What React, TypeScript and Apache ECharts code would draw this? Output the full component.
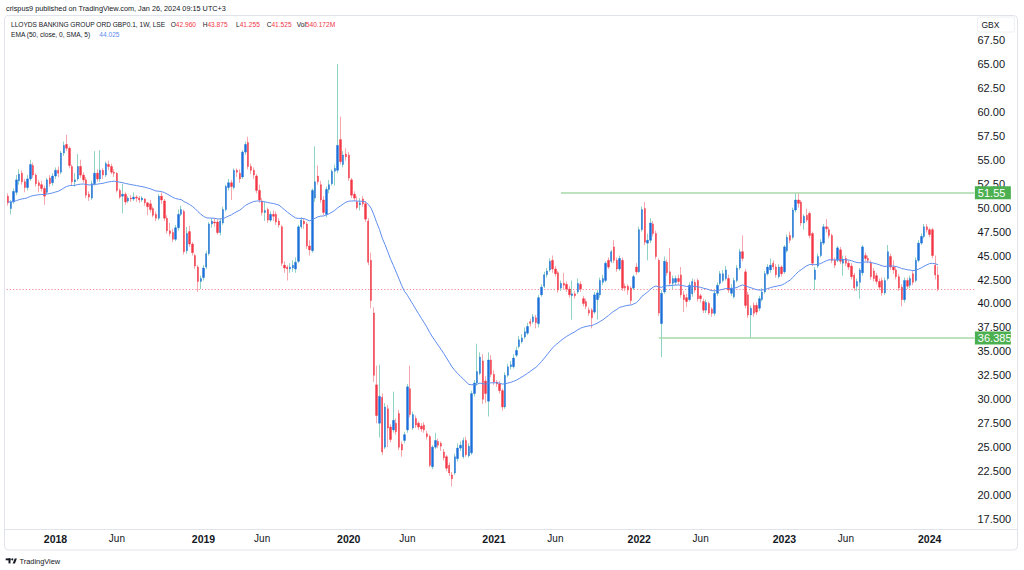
import React, { useEffect, useRef } from "react";
import * as echarts from "echarts";

// ---------------- data ----------------
// first weekly bar (Monday) of the series
const startYear = 2017;
const startMonth = 9; // September
const startDay = 4;
const padSlots = 13; // empty weeks right of the last bar

// weekly candles: [open, close, low, high]
const candles2017 = [
  [51.2, 50.5, 50.2, 51.5], [49.9, 50.6, 49.3, 50.8], [50.6, 51.7, 50.4, 52.0], [51.6, 52.9, 51.3, 53.4],
  [52.8, 53.5, 52.4, 54.0], [53.6, 52.7, 52.4, 53.9], [52.7, 52.1, 51.6, 53.0], [52.1, 53.0, 51.8, 53.4],
  [53.0, 54.5, 52.8, 55.0], [54.4, 53.4, 53.1, 54.7], [53.4, 52.5, 52.2, 53.6], [52.6, 52.3, 51.6, 52.9],
  [52.4, 52.0, 51.7, 52.8], [52.0, 51.2, 50.3, 52.3], [51.6, 52.9, 51.4, 53.1], [53.1, 52.5, 52.2, 53.4],
  [52.6, 53.3, 52.3, 53.6],
];
const candles2018 = [
  [53.3, 53.9, 53.0, 54.2], [53.9, 53.6, 53.2, 54.3], [53.7, 55.7, 53.5, 55.9], [55.7, 56.5, 55.4, 56.9],
  [56.6, 56.2, 55.9, 57.6], [56.2, 54.4, 54.1, 56.4], [54.3, 52.7, 52.3, 54.5], [52.7, 52.9, 52.2, 53.6],
  [53.0, 54.3, 52.8, 55.6], [54.3, 53.4, 53.1, 55.0], [53.4, 52.9, 52.6, 53.7], [52.9, 51.3, 51.0, 53.2],
  [51.4, 51.1, 50.7, 51.7], [51.0, 52.5, 50.8, 52.8], [52.5, 53.6, 52.3, 55.9], [53.6, 53.0, 52.7, 54.0],
  [53.0, 53.9, 52.7, 56.0], [53.9, 53.4, 53.0, 54.1], [53.4, 54.6, 53.2, 54.8], [54.5, 54.3, 53.9, 54.9],
  [54.3, 53.7, 53.5, 54.6], [53.7, 53.6, 53.2, 54.0], [53.6, 51.8, 51.6, 53.7], [51.8, 51.1, 50.9, 52.0],
  [51.2, 51.4, 49.4, 52.5], [51.4, 50.6, 50.3, 51.6], [50.7, 51.0, 50.5, 51.2], [51.0, 50.9, 50.6, 51.3],
  [50.9, 51.1, 50.7, 51.6], [51.1, 51.0, 50.6, 51.3], [51.0, 50.8, 50.5, 51.2], [50.8, 51.0, 50.6, 51.2],
  [50.9, 50.5, 50.2, 51.0], [50.5, 50.1, 49.2, 50.6], [50.4, 49.8, 49.5, 50.8], [49.9, 49.2, 49.0, 50.1],
  [49.3, 48.9, 48.6, 49.6], [48.9, 51.2, 48.7, 51.4], [51.2, 50.8, 50.4, 51.6], [50.7, 48.9, 48.6, 50.9],
  [48.9, 47.6, 47.3, 49.2], [47.6, 47.3, 47.0, 48.4], [47.4, 46.7, 46.4, 47.8], [46.7, 47.9, 46.5, 48.2],
  [47.9, 49.3, 47.6, 49.8], [49.3, 49.8, 49.1, 50.2], [49.6, 45.4, 45.1, 49.8], [45.5, 47.3, 45.2, 48.0],
  [47.5, 46.2, 45.9, 48.1], [46.2, 45.3, 45.0, 46.4], [45.0, 43.9, 43.6, 45.2], [43.8, 42.3, 41.2, 44.0],
  [42.3, 42.6, 41.5, 42.9],
];
const candles2019 = [
  [42.7, 43.7, 42.4, 44.0], [43.8, 45.2, 43.6, 45.5], [45.2, 48.3, 45.0, 48.5], [48.3, 48.6, 47.9, 48.9],
  [48.5, 48.4, 48.0, 48.9], [48.5, 47.4, 47.2, 48.8], [47.4, 48.6, 47.1, 48.9], [48.4, 49.8, 48.2, 50.1],
  [49.8, 52.2, 49.6, 52.4], [52.1, 52.6, 51.8, 53.0], [52.6, 52.2, 50.8, 52.9], [52.1, 53.9, 51.9, 54.1],
  [53.9, 53.7, 53.2, 54.1], [53.6, 53.0, 52.6, 54.0], [53.2, 55.8, 53.0, 56.0], [55.8, 56.6, 55.5, 56.9],
  [56.8, 54.3, 54.0, 57.4], [54.3, 53.9, 53.5, 54.6], [53.9, 53.4, 53.0, 54.2], [53.3, 51.8, 51.5, 53.5],
  [51.8, 50.8, 50.5, 52.4], [50.7, 49.5, 49.2, 51.0], [49.5, 49.7, 48.6, 50.6], [49.8, 48.7, 48.4, 50.0],
  [48.7, 49.3, 48.5, 49.6], [49.3, 49.1, 48.6, 49.7], [49.3, 48.5, 48.2, 49.6], [48.6, 48.2, 47.9, 48.9],
  [48.0, 44.2, 43.9, 48.2], [44.0, 43.7, 43.2, 44.4], [43.8, 43.6, 42.4, 44.0], [43.6, 43.8, 43.2, 44.2],
  [43.7, 44.0, 43.3, 44.5], [43.6, 44.3, 43.2, 44.8], [44.4, 48.0, 44.2, 48.2], [48.0, 48.7, 47.8, 49.0],
  [48.6, 48.3, 47.8, 48.9], [48.3, 46.0, 45.7, 48.5], [46.0, 45.6, 45.0, 46.6], [45.5, 51.8, 45.3, 52.0],
  [51.0, 52.7, 50.6, 56.4], [53.3, 52.7, 52.4, 54.4], [52.4, 50.8, 50.5, 52.8], [50.8, 49.5, 49.2, 51.2],
  [49.3, 51.9, 49.0, 52.2], [51.9, 52.4, 51.5, 52.9], [52.5, 53.8, 52.3, 54.0], [53.8, 54.1, 52.3, 54.5],
  [53.9, 56.5, 53.6, 65.0], [57.1, 54.8, 54.5, 59.5], [54.5, 55.5, 54.2, 55.9], [55.6, 55.3, 54.9, 56.2],
];
const candles2020 = [
  [55.5, 53.1, 52.8, 55.8], [52.9, 51.3, 51.0, 53.1], [51.4, 51.0, 50.7, 51.7], [50.6, 50.0, 49.8, 51.2],
  [50.3, 50.5, 49.7, 51.0], [50.9, 50.4, 50.1, 51.2], [50.4, 48.8, 48.5, 50.7], [48.6, 44.3, 44.0, 48.9],
  [44.5, 40.3, 39.5, 45.3], [39.0, 32.5, 31.8, 39.6], [31.5, 28.3, 27.5, 33.5], [27.5, 30.3, 26.0, 33.6],
  [30.2, 24.5, 24.2, 30.6], [25.0, 29.2, 24.8, 29.6], [29.0, 27.0, 25.0, 29.4], [27.1, 25.8, 25.5, 27.4],
  [26.8, 27.8, 26.5, 30.8], [27.5, 26.6, 26.3, 28.0], [28.5, 25.0, 24.7, 28.9], [25.3, 24.7, 24.0, 25.6],
  [25.7, 26.3, 25.4, 26.6], [26.8, 31.3, 26.5, 31.6], [31.1, 28.4, 28.1, 33.5], [27.0, 28.4, 26.8, 28.7],
  [28.0, 27.3, 27.0, 28.3], [27.5, 27.1, 26.8, 27.7], [27.2, 26.9, 26.6, 27.5], [27.3, 26.8, 26.5, 27.6],
  [26.4, 26.1, 25.8, 26.7], [26.1, 23.1, 22.9, 26.3], [22.96, 25.0, 22.7, 25.2], [25.0, 25.7, 24.8, 26.5],
  [25.6, 25.2, 24.9, 25.9], [25.4, 25.1, 24.6, 25.6], [24.5, 23.9, 23.6, 24.8], [24.0, 22.8, 22.5, 24.2],
  [23.1, 22.3, 22.0, 23.4], [22.1, 21.7, 20.9, 22.4], [22.3, 24.0, 22.1, 24.3], [23.8, 24.9, 23.5, 25.4],
  [24.9, 25.2, 24.6, 25.6], [24.0, 25.7, 23.8, 26.0], [25.7, 24.2, 24.0, 26.1], [24.1, 25.1, 23.9, 25.4],
  [24.4, 30.6, 24.2, 30.9], [30.6, 31.7, 30.3, 32.0], [31.7, 32.9, 31.4, 35.8], [32.7, 34.4, 32.5, 34.9],
  [34.0, 30.0, 29.5, 34.7], [31.9, 30.6, 29.6, 32.4], [29.8, 34.1, 28.2, 34.9],
];
const candles2021 = [
  [34.1, 32.6, 32.3, 34.6], [32.6, 31.8, 31.5, 33.0], [31.8, 31.6, 31.3, 32.0], [31.6, 30.9, 30.6, 31.9],
  [30.9, 29.2, 28.8, 31.1], [29.2, 32.5, 29.0, 32.8], [32.5, 33.4, 32.3, 33.7], [33.4, 33.6, 33.1, 34.0],
  [33.4, 34.3, 33.2, 34.7], [34.6, 35.1, 34.4, 35.5], [35.5, 36.2, 35.3, 36.6], [36.0, 36.4, 35.8, 36.8],
  [36.5, 37.05, 36.3, 37.5], [36.9, 37.6, 36.7, 38.0], [38.1, 37.9, 37.6, 38.4], [38.1, 38.6, 37.9, 38.9],
  [38.5, 38.0, 37.4, 38.8], [37.9, 40.6, 37.5, 40.9], [40.9, 41.7, 40.7, 42.0], [41.8, 43.0, 41.6, 43.3],
  [43.0, 43.4, 42.7, 43.7], [43.5, 44.4, 43.3, 44.7], [44.5, 43.6, 43.2, 45.0], [43.6, 43.1, 42.8, 43.9],
  [43.2, 41.4, 41.1, 43.4], [41.6, 42.1, 41.3, 42.4], [42.1, 41.9, 41.5, 43.2], [42.0, 41.5, 41.2, 42.3],
  [41.5, 40.9, 40.6, 41.8], [40.8, 41.0, 38.3, 42.4], [41.0, 40.8, 40.5, 41.3], [41.2, 42.1, 41.0, 42.6],
  [42.0, 41.5, 41.2, 42.3], [40.5, 40.0, 39.7, 40.8], [40.2, 39.7, 39.4, 40.5], [39.3, 39.0, 38.7, 39.6],
  [39.3, 38.5, 37.4, 39.5], [39.1, 40.9, 38.9, 41.2], [40.4, 41.1, 38.3, 41.4], [40.9, 42.4, 40.6, 42.7],
  [42.2, 42.6, 41.9, 43.0], [42.4, 44.2, 42.2, 44.4], [44.5, 43.8, 43.6, 44.8], [44.4, 45.4, 44.2, 45.6],
  [45.9, 44.5, 44.2, 46.6], [44.5, 43.6, 43.3, 44.8], [43.6, 44.7, 43.4, 45.0], [44.5, 41.6, 41.3, 44.8],
  [41.8, 41.6, 41.3, 42.1], [41.8, 41.4, 40.9, 42.0], [41.6, 40.3, 39.9, 41.8], [41.6, 42.8, 41.4, 43.0],
];
const candles2022 = [
  [43.8, 43.3, 43.0, 44.2], [43.3, 47.7, 43.2, 48.0], [47.7, 49.8, 47.5, 50.1], [49.9, 46.4, 46.1, 50.6],
  [46.3, 46.6, 44.5, 47.3], [46.6, 48.4, 46.3, 48.9], [48.3, 47.3, 47.0, 48.6], [47.3, 44.9, 44.6, 47.6],
  [44.5, 39.0, 38.7, 44.7], [37.9, 41.06, 34.4, 41.4], [41.2, 44.4, 41.0, 44.9], [44.3, 43.2, 42.9, 44.6],
  [43.3, 42.1, 41.8, 45.8], [42.1, 42.6, 41.5, 42.9], [42.2, 42.6, 41.9, 42.9], [42.6, 42.3, 42.0, 43.0],
  [42.97, 40.9, 40.6, 43.8], [40.9, 40.4, 39.1, 41.3], [40.6, 40.2, 39.6, 41.0], [40.4, 41.9, 40.2, 42.2],
  [41.0, 42.3, 40.7, 42.6], [42.2, 41.4, 41.1, 42.5], [42.4, 40.5, 40.2, 42.6], [40.8, 40.5, 40.1, 41.0],
  [40.2, 39.3, 39.0, 40.5], [39.3, 40.1, 39.0, 40.4], [40.0, 39.0, 38.8, 40.2], [39.4, 38.97, 38.6, 39.6],
  [38.97, 41.06, 38.7, 41.3], [41.06, 41.9, 40.8, 42.2], [42.1, 43.1, 41.9, 43.4], [42.4, 43.1, 42.2, 43.5],
  [42.6, 43.5, 42.4, 43.9], [42.6, 41.4, 41.1, 43.0], [41.06, 41.6, 40.8, 42.0], [40.7, 42.4, 40.5, 42.7],
  [42.4, 43.7, 42.2, 44.0], [43.7, 45.4, 43.5, 45.7], [45.4, 44.7, 44.4, 47.1], [43.3, 39.8, 39.5, 43.6],
  [40.9, 38.8, 38.5, 41.2], [38.8, 39.5, 36.385, 39.8], [39.8, 38.97, 38.6, 40.1], [39.8, 39.1, 38.8, 40.1],
  [39.5, 40.5, 39.2, 40.8], [40.4, 41.2, 40.2, 41.6], [41.2, 43.1, 41.0, 43.4], [43.1, 43.8, 42.9, 44.1],
  [43.5, 44.0, 43.2, 44.7], [44.2, 43.8, 43.5, 44.5], [43.8, 43.0, 42.7, 44.1], [42.8, 43.8, 42.6, 44.1],
];
const candles2023 = [
  [43.8, 43.1, 42.8, 44.0], [43.3, 45.9, 43.1, 46.1], [45.5, 46.9, 45.3, 47.2], [47.1, 46.6, 46.3, 47.5],
  [46.9, 49.75, 46.7, 50.0], [49.75, 50.8, 49.5, 51.5], [50.8, 50.45, 50.0, 51.55], [50.6, 48.4, 48.1, 50.8],
  [48.4, 49.1, 47.7, 49.3], [49.2, 48.7, 48.5, 49.9], [49.4, 47.1, 46.8, 49.6], [47.3, 44.2, 43.9, 47.5],
  [42.5, 43.5, 41.4, 43.8], [43.9, 44.9, 43.7, 45.2], [45.0, 46.4, 44.8, 46.7], [46.3, 48.0, 46.1, 48.3],
  [48.0, 47.8, 47.4, 48.8], [47.7, 47.1, 46.8, 48.0], [47.1, 44.5, 44.2, 47.3], [44.5, 44.0, 43.7, 44.8],
  [44.5, 45.8, 44.3, 46.0], [45.6, 44.4, 44.1, 45.9], [44.2, 44.6, 42.9, 45.0], [44.7, 44.2, 43.9, 45.0],
  [44.2, 43.8, 43.5, 44.5], [43.9, 42.8, 42.5, 44.2], [42.96, 41.6, 41.3, 43.2], [41.8, 42.3, 41.3, 42.6],
  [42.2, 43.5, 40.5, 43.7], [43.2, 45.9, 42.9, 46.1], [45.0, 44.7, 44.4, 45.3], [44.7, 44.5, 44.2, 45.0],
  [44.2, 42.8, 42.5, 44.5], [43.4, 42.6, 42.3, 43.7], [42.9, 42.3, 42.0, 43.2], [42.3, 41.7, 41.4, 42.6],
  [42.4, 41.1, 40.8, 42.7], [41.1, 42.4, 40.9, 42.7], [42.6, 45.4, 42.4, 46.1], [44.9, 43.8, 43.5, 45.2],
  [43.8, 43.5, 43.1, 44.5], [43.5, 42.8, 42.5, 43.8], [42.8, 41.6, 41.3, 43.1], [41.7, 40.4, 39.7, 42.0],
  [40.4, 42.4, 40.1, 42.7], [42.4, 41.8, 41.5, 42.7], [41.9, 42.6, 41.6, 42.9], [43.1, 42.2, 41.9, 43.4],
  [42.4, 44.5, 42.2, 44.8], [44.5, 46.3, 44.3, 46.6], [46.3, 47.0, 46.1, 47.3], [47.0, 48.0, 46.8, 48.3],
  [48.0, 47.7, 47.4, 48.3],
];
const candles2024 = [
  [47.7, 47.2, 46.9, 47.9], [47.7, 45.0, 44.7, 47.9], [44.0, 42.96, 42.5, 45.0], [42.96, 41.525, 41.255, 43.875],
];

// indicator + levels
const emaLength = 50;
const emaSeed = 50.6; // EMA value carried in from before the first visible bar
const resistanceLevel = 51.55;
const supportLevel = 36.385;
const lastClose = 41.525;
const resistanceStartBar = 198;
const supportStartBar = 233;

// price scale ticks
const priceMin = 15;
const priceMax = 70;
const priceStep = 2.5;

// legend texts
const headerText = "crispus9 published on TradingView.com, Jan 26, 2024 09:15 UTC+3";
const symbolText = "LLOYDS BANKING GROUP ORD GBP0.1, 1W, LSE";
const ohlcLabels = ["O", "H", "L", "C", "Vol"];
const ohlcValues = ["42.960", "43.875", "41.255", "41.525", "540.172M"];
const emaLabel = "EMA (50, close, 0, SMA, 5)";
const emaValueText = "44.025";

// ---------------- styles ----------------
const FONT = '"Liberation Sans", Arial, Helvetica, sans-serif';
const TEXT = "#131722";
const UP_BODY = "#1B6FD8";
const DOWN_BODY = "#F23645";
const UP_WICK = "#8FD3C7";
const DOWN_WICK = "#F7A6AE";
const EMA_COLOR = "#5E8DF0";
const LEVEL_LINE = "#A6D8A8";
const BADGE = "#4CAF50";
const BORDER = "#E0E3EB";

const SLOT = 2.793;
const GRID_LEFT = 6.6;
const GRID_TOP = 16.05;
const GRID_HEIGHT = 526.9;
const TIME_AXIS_Y = 529.5;
const LEGEND_FONT = 6.6;

export default function App() {
  const ref = useRef<HTMLDivElement>(null);

  useEffect(() => {
    const el = ref.current;
    if (!el) return;
    const chart = echarts.init(el, null, { renderer: "svg" });

    const all = [
      ...candles2017, ...candles2018, ...candles2019, ...candles2020,
      ...candles2021, ...candles2022, ...candles2023, ...candles2024,
    ];
    const nBars = all.length;
    const nSlots = nBars + padSlots;

    // weekly categories and time-axis labels
    const t0 = Date.UTC(startYear, startMonth - 1, startDay);
    const week = 7 * 86400000;
    const cats: string[] = [];
    const timeLabels: string[] = [];
    for (let k = 0; k < nSlots; k++) {
      const d = new Date(t0 + k * week);
      const p = new Date(t0 + (k - 1) * week);
      cats.push(d.toISOString().slice(0, 10));
      let lab = "";
      if (k > 0 && d.getUTCFullYear() !== p.getUTCFullYear()) lab = "{y|" + d.getUTCFullYear() + "}";
      else if (k > 0 && d.getUTCMonth() === 5 && p.getUTCMonth() !== 5) lab = "Jun";
      timeLabels.push(lab);
    }

    const bodies = all.map(([o, c]) => [o, c, Math.min(o, c), Math.max(o, c)]);

    const alpha = 2 / (emaLength + 1);
    const ema: number[] = [];
    let prev = emaSeed;
    for (const c of all) {
      prev = prev + alpha * (c[1] - prev);
      ema.push(+prev.toFixed(4));
    }

    const gridBottom = GRID_TOP + GRID_HEIGHT;

    const badgeLabel = (txt: string) => ({
      show: true,
      position: "end",
      distance: 0.5,
      formatter: txt,
      color: "#ffffff",
      backgroundColor: BADGE,
      padding: [1, 3, 1, 3],
      width: 30,
      lineHeight: 11,
      fontSize: 11,
      fontFamily: FONT,
    });

    const legendItems: any[] = [];
    const legendX = [170.7, 202.7, 236, 266.7, 296.7];
    ohlcLabels.forEach((l, idx) => {
      legendItems.push({
        type: "text",
        x: legendX[idx],
        y: 24.5,
        silent: true,
        style: {
          text: l + "{r|" + ohlcValues[idx] + "}",
          fill: TEXT,
          fontSize: LEGEND_FONT,
          fontFamily: FONT,
          verticalAlign: "middle",
          rich: { r: { fill: DOWN_BODY, fontSize: LEGEND_FONT, fontFamily: FONT } },
        },
      });
    });

    chart.setOption({
      animation: false,
      backgroundColor: "#ffffff",
      textStyle: { fontFamily: FONT },
      grid: { left: GRID_LEFT, top: GRID_TOP, width: nSlots * SLOT, height: GRID_HEIGHT, containLabel: false },
      xAxis: {
        type: "category",
        data: cats,
        boundaryGap: true,
        offset: TIME_AXIS_Y - gridBottom,
        axisLine: { show: false, onZero: false },
        axisTick: { show: false },
        splitLine: { show: false },
        axisLabel: {
          interval: 0,
          margin: 4,
          color: TEXT,
          fontSize: 10,
          fontFamily: FONT,
          formatter: (_v: string, i: number) => timeLabels[i] || "",
          rich: { y: { fontWeight: "bold", fontSize: 10.5, color: TEXT, fontFamily: FONT } },
        },
      },
      yAxis: {
        type: "value",
        position: "right",
        min: priceMin,
        max: priceMax,
        interval: priceStep,
        axisLine: { show: false },
        axisTick: { show: false },
        splitLine: { show: false },
        axisLabel: {
          margin: 1.7,
          color: TEXT,
          fontSize: 11,
          fontFamily: FONT,
          formatter: (v: number) => {
            if (v < 17.4 || v > 67.6) return "";
            return v >= 52.5 ? v.toFixed(2) : v.toFixed(3);
          },
        },
      },
      series: [
        {
          name: "wicks",
          type: "candlestick",
          data: all,
          barWidth: 0.01,
          silent: true,
          clip: false,
          itemStyle: {
            color: UP_WICK, color0: DOWN_WICK,
            borderColor: UP_WICK, borderColor0: DOWN_WICK, borderWidth: 1,
          },
          markLine: {
            silent: true,
            symbol: ["none", "none"],
            z: 1,
            data: [
              {
                yAxis: lastClose,
                lineStyle: { type: [1.2, 2], color: "#F08A93", width: 1 },
                label: { show: false },
              },
            ],
          },
        },
        {
          name: "bodies",
          type: "candlestick",
          data: bodies,
          barWidth: 1.9,
          silent: true,
          clip: false,
          itemStyle: {
            color: UP_BODY, color0: DOWN_BODY,
            borderColor: UP_BODY, borderColor0: DOWN_BODY, borderWidth: 0.4,
          },
          markLine: {
            silent: true,
            symbol: ["none", "none"],
            data: [
              [
                {
                  coord: [resistanceStartBar, resistanceLevel],
                  lineStyle: { color: LEVEL_LINE, width: 1.6, type: "solid" },
                  label: badgeLabel(resistanceLevel.toFixed(2)),
                },
                { coord: [nSlots - 1, resistanceLevel] },
              ],
              [
                {
                  coord: [supportStartBar, supportLevel],
                  lineStyle: { color: LEVEL_LINE, width: 1.6, type: "solid" },
                  label: badgeLabel(supportLevel.toFixed(3)),
                },
                { coord: [nSlots - 1, supportLevel] },
              ],
            ],
          },
        },
        {
          name: "EMA",
          type: "line",
          data: ema,
          symbol: "none",
          showSymbol: false,
          silent: true,
          z: 4,
          lineStyle: { color: EMA_COLOR, width: 1 },
        },
      ],
      graphic: [
        {
          type: "rect", silent: true, z: -1,
          shape: { x: 4.5, y: 15.5, width: 1013, height: 534.5, r: 4 },
          style: { fill: "none", stroke: BORDER, lineWidth: 1 },
        },
        {
          type: "line", silent: true,
          shape: { x1: 4.5, y1: TIME_AXIS_Y, x2: 1017.5, y2: TIME_AXIS_Y },
          style: { stroke: BORDER, lineWidth: 1 },
        },
        {
          type: "text", x: 6, y: 8.5, silent: true,
          style: { text: headerText, fill: TEXT, fontSize: 7.3, fontFamily: FONT, verticalAlign: "middle" },
        },
        {
          type: "text", x: 11, y: 24.5, silent: true,
          style: { text: symbolText, fill: TEXT, fontSize: LEGEND_FONT, fontFamily: FONT, verticalAlign: "middle" },
        },
        ...legendItems,
        {
          type: "text", x: 11, y: 34.5, silent: true,
          style: { text: emaLabel, fill: TEXT, fontSize: LEGEND_FONT, fontFamily: FONT, verticalAlign: "middle" },
        },
        {
          type: "text", x: 99.3, y: 34.5, silent: true,
          style: { text: emaValueText, fill: EMA_COLOR, fontSize: LEGEND_FONT, fontFamily: FONT, verticalAlign: "middle" },
        },
        {
          type: "rect", silent: true,
          shape: { x: 977.5, y: 17, width: 37, height: 15, r: 2 },
          style: { fill: "#ffffff", stroke: "#EEF0F4", lineWidth: 1 },
        },
        {
          type: "text", x: 981.5, y: 24.5, silent: true,
          style: { text: "GBX", fill: TEXT, fontSize: 8.5, fontFamily: FONT, verticalAlign: "middle" },
        },
        // TradingView logo
        { type: "rect", silent: true, shape: { x: 5.7, y: 558.4, width: 4.8, height: 1.9 }, style: { fill: TEXT } },
        { type: "rect", silent: true, shape: { x: 8.5, y: 558.4, width: 2.0, height: 5 }, style: { fill: TEXT } },
        { type: "circle", silent: true, shape: { cx: 12.3, cy: 559.3, r: 1.0 }, style: { fill: TEXT } },
        {
          type: "polygon", silent: true,
          shape: { points: [[12.7, 563.4], [14.7, 558.4], [16.9, 558.4], [14.9, 563.4]] },
          style: { fill: TEXT },
        },
        {
          type: "text", x: 19.5, y: 561, silent: true,
          style: { text: "TradingView", fill: TEXT, fontSize: 7.4, fontFamily: FONT, verticalAlign: "middle" },
        },
      ],
    });

    return () => chart.dispose();
  }, []);

  return (
    <div
      ref={ref}
      style={{ position: "fixed", left: 0, top: 0, width: 1024, height: 570, background: "#ffffff" }}
    />
  );
}
